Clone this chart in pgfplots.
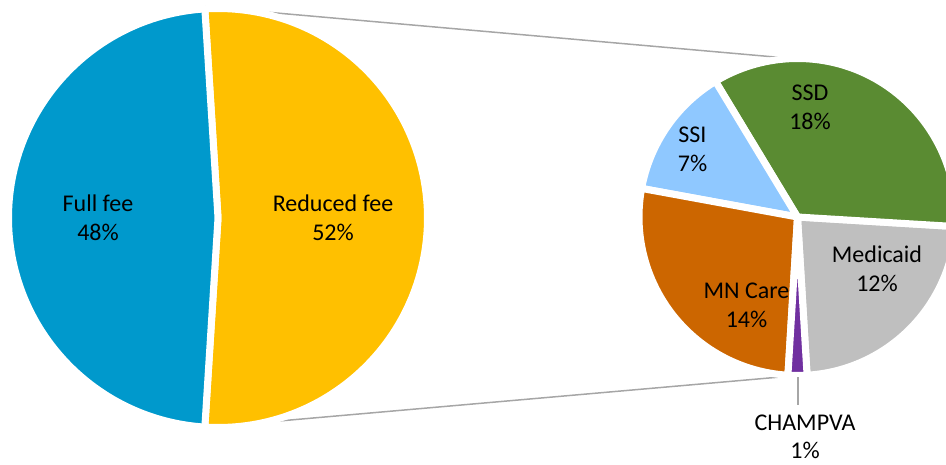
\documentclass[border=0pt]{standalone}
\usepackage{pgfplots}
\pgfplotsset{compat=1.18}
\usepackage{fontspec}
\setmainfont{Carlito}
\definecolor{cFull}{HTML}{0099CC}
\definecolor{cRed}{HTML}{FFC000}
\definecolor{cSSD}{HTML}{5A8B32}
\definecolor{cSSI}{HTML}{8FC8FF}
\definecolor{cMN}{HTML}{CC6600}
\definecolor{cMed}{HTML}{BFBFBF}
\definecolor{cCH}{HTML}{7030A0}
\definecolor{cLine}{HTML}{A6A6A6}
% data (percent)
\def\vFull{48}\def\vRed{52}
\def\vMed{12}\def\vSSD{18}\def\vSSI{7}\def\vMN{14}\def\vCH{1}
% angles
\pgfmathsetmacro\dpb{360/100}
\pgfmathsetmacro\bA{-\vRed*\dpb/2}
\pgfmathsetmacro\bB{\vRed*\dpb/2}
\pgfmathsetmacro\bC{\bB+\vFull*\dpb}
\pgfmathsetmacro\dps{360/\vRed}
\pgfmathsetmacro\sA{-90+\vCH*\dps/2}
\pgfmathsetmacro\sB{\sA+\vMed*\dps}
\pgfmathsetmacro\sC{\sB+\vSSD*\dps}
\pgfmathsetmacro\sD{\sC+\vSSI*\dps}
\pgfmathsetmacro\sE{\sD+\vMN*\dps}
\pgfmathsetmacro\sF{\sE+\vCH*\dps}
% geometry
\def\bx{218}\def\by{246}\def\bR{209.5}
\def\sx{797.5}\def\sy{247}\def\sR{158.5}
\newcommand{\slice}[6]{%
  \filldraw[fill=#6, draw=white, line width=7pt, line join=round]
    (axis cs:#1,#2) -- ++(#4:#3pt) arc[start angle=#4, end angle=#5, radius=#3pt] -- cycle;}
\newcommand{\lab}[4]{%
  \node[anchor=base, inner sep=0pt, font=\fontsize{24}{29}\selectfont] at (axis cs:#1,#2) {#3};
  \node[anchor=base, inner sep=0pt, font=\fontsize{24}{29}\selectfont] at (axis cs:#1,#2-28.5) {#4};}
\begin{document}
\begin{tikzpicture}
\begin{axis}[width=946pt, height=464pt, scale only axis,
  xmin=0, xmax=946, ymin=0, ymax=464, hide axis, clip=true]
\coordinate (SW) at (axis cs:0,0);
\coordinate (NE) at (axis cs:946,464);
% connector lines
\draw[cLine, line width=1.5pt] (axis cs:205,457.3) -- (axis cs:797.5,405);
\draw[cLine, line width=1.5pt] (axis cs:205,36.5) -- (axis cs:797.5,88.5);
% big pie
\slice{\bx}{\by}{\bR}{\bA}{\bB}{cRed}
\slice{\bx}{\by}{\bR}{\bB}{\bC}{cFull}
% small pie
\slice{\sx}{\sy}{\sR}{\sA}{\sB}{cMed}
\slice{\sx}{\sy}{\sR}{\sB}{\sC}{cSSD}
\slice{\sx}{\sy}{\sR}{\sC}{\sD}{cSSI}
\slice{\sx}{\sy}{\sR}{\sD}{\sE}{cMN}
\slice{\sx}{\sy}{\sR}{\sE}{\sF}{cCH}
% leader
\draw[cLine, line width=1.5pt] (axis cs:798,87) -- (axis cs:798,59);
% labels
\lab{98}{252}{Full fee}{48\%}
\lab{333}{252}{Reduced fee}{52\%}
\lab{810}{363}{SSD}{18\%}
\lab{692.5}{321}{SSI}{7\%}
\lab{746.5}{165}{MN Care}{14\%}
\lab{877}{201}{Medicaid}{12\%}
\lab{805}{34}{CHAMPVA}{1\%}
\end{axis}
\pgfresetboundingbox
\useasboundingbox (SW) rectangle (NE);
\end{tikzpicture}
\end{document}
